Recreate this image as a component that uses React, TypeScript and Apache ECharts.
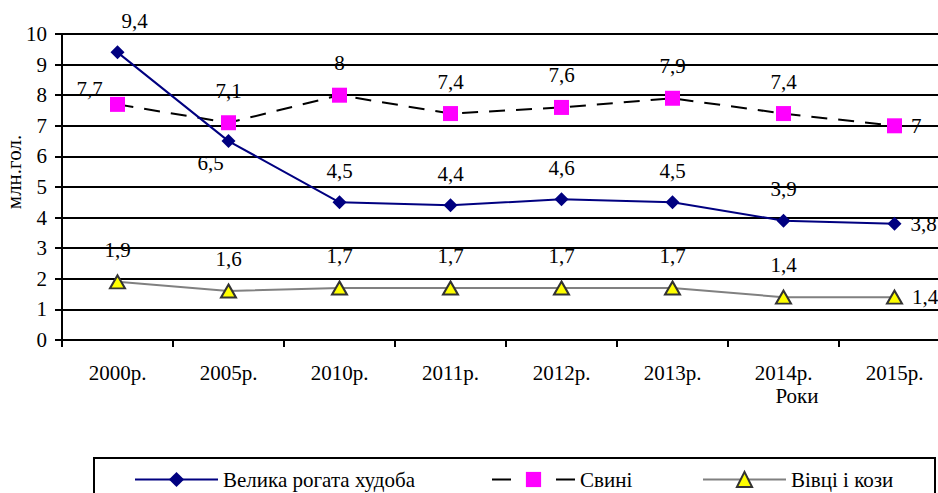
import React, { useEffect, useRef } from "react";
import * as echarts from "echarts";

const categories = ["2000р.", "2005р.", "2010р.", "2011р.", "2012р.", "2013р.", "2014р.", "2015р."];
const cattle = [9.4, 6.5, 4.5, 4.4, 4.6, 4.5, 3.9, 3.8];
const pigs = [7.7, 7.1, 8, 7.4, 7.6, 7.9, 7.4, 7];
const sheep = [1.9, 1.6, 1.7, 1.7, 1.7, 1.7, 1.4, 1.4];
const seriesNames = ["Велика рогата худоба", "Свині", "Вівці і кози"];
const yAxisName = "млн.гол.";
const xAxisName = "Роки";

const FONT = "Liberation Serif";
const FS = 21;

const fmt = (v: number) => String(v).replace(".", ",");

export default function App() {
  const ref = useRef<HTMLDivElement>(null);
  useEffect(() => {
    if (!ref.current) return;
    const chart = echarts.init(ref.current, undefined, { renderer: "svg" });
    const last = categories.length - 1;

    const cattleData = cattle.map((v, i) => {
      if (i === 0) return { value: v, label: { offset: [17, 0] } };
      if (i === 1) return { value: v, label: { position: "bottom", distance: 4, offset: [-18, 0] } };
      if (i === last) return { value: v, label: { position: "right", distance: 9 } };
      return { value: v };
    });
    const pigsData = pigs.map((v, i) => {
      if (i === 0) return { value: v, label: { position: "top", offset: [-28, 17] } };
      if (i === last) return { value: v, label: { position: "right", distance: 9 } };
      return { value: v };
    });
    const sheepData = sheep.map((v, i) => {
      if (i === last) return { value: v, label: { position: "right", distance: 9 } };
      return { value: v };
    });

    const labelBase = {
      show: true,
      position: "top",
      distance: 14,
      color: "#000",
      fontFamily: FONT,
      fontSize: FS,
      formatter: (p: any) => fmt(p.value),
    };

    const legendBase = {
      top: 464,
      itemWidth: 83,
      itemHeight: 19,
      itemGap: 0,
      textStyle: { fontFamily: FONT, fontSize: FS, color: "#000" },
      selectedMode: false,
    };

    chart.setOption({
      animation: false,
      backgroundColor: "#fff",
      grid: { left: 62, top: 34, bottom: 153, right: 0 },
      legend: [
        { ...legendBase, left: 129, data: [seriesNames[0]] },
        {
          ...legendBase,
          left: 486,
          data: [seriesNames[1]],
          lineStyle: { type: [19, 45, 19, 50] },
        },
        { ...legendBase, left: 697, data: [seriesNames[2]] },
      ],
      xAxis: {
        type: "category",
        data: categories,
        boundaryGap: true,
        axisLine: { lineStyle: { color: "#000", width: 2 } },
        axisTick: { show: true, length: 7, lineStyle: { color: "#000", width: 2 } },
        axisLabel: {
          color: "#000",
          fontFamily: FONT,
          fontSize: FS,
          margin: 22,
          interval: 0,
        },
        splitLine: { show: false },
      },
      yAxis: {
        type: "value",
        min: 0,
        max: 10,
        interval: 1,
        axisLine: { show: true, lineStyle: { color: "#000", width: 2 } },
        axisTick: { show: true, length: 7, lineStyle: { color: "#000", width: 2 } },
        axisLabel: { color: "#000", fontFamily: FONT, fontSize: FS, margin: 15 },
        splitLine: { show: true, lineStyle: { color: "#000", width: 2 } },
      },
      graphic: [
        {
          type: "text",
          x: 14,
          y: 172,
          rotation: Math.PI / 2,
          style: {
            text: yAxisName,
            fontFamily: FONT,
            fontSize: 21,
            fill: "#000",
            align: "center",
            verticalAlign: "middle",
          },
        },
        {
          type: "text",
          x: 797,
          y: 396,
          style: {
            text: xAxisName,
            fontFamily: FONT,
            fontSize: FS,
            fill: "#000",
            align: "center",
            verticalAlign: "middle",
          },
        },
        {
          type: "rect",
          shape: { x: 94, y: 458, width: 841, height: 60 },
          style: { fill: "none", stroke: "#000", lineWidth: 2 },
          z: 0,
        },
      ],
      series: [
        {
          name: seriesNames[0],
          type: "line",
          data: cattleData,
          symbol: "diamond",
          symbolSize: 14,
          lineStyle: { color: "#000080", width: 2 },
          itemStyle: { color: "#000080" },
          label: labelBase,
          z: 4,
        },
        {
          name: seriesNames[1],
          type: "line",
          data: pigsData,
          symbol: "rect",
          symbolSize: 15,
          lineStyle: { color: "#000", width: 2, type: [16, 11] },
          itemStyle: { color: "#FF00FF" },
          label: labelBase,
          z: 3,
        },
        {
          name: seriesNames[2],
          type: "line",
          data: sheepData,
          symbol: "triangle",
          symbolSize: [15, 13],
          lineStyle: { color: "#808080", width: 2 },
          itemStyle: { color: "#FFFF00", borderColor: "#333", borderWidth: 2 },
          label: labelBase,
          z: 2,
        },
      ],
    });
    return () => chart.dispose();
  }, []);
  return (
    <div style={{ position: "fixed", left: 0, top: 0, width: 938, height: 493, overflow: "hidden" }}>
      <div ref={ref} style={{ width: 950, height: 493 }} />
    </div>
  );
}
